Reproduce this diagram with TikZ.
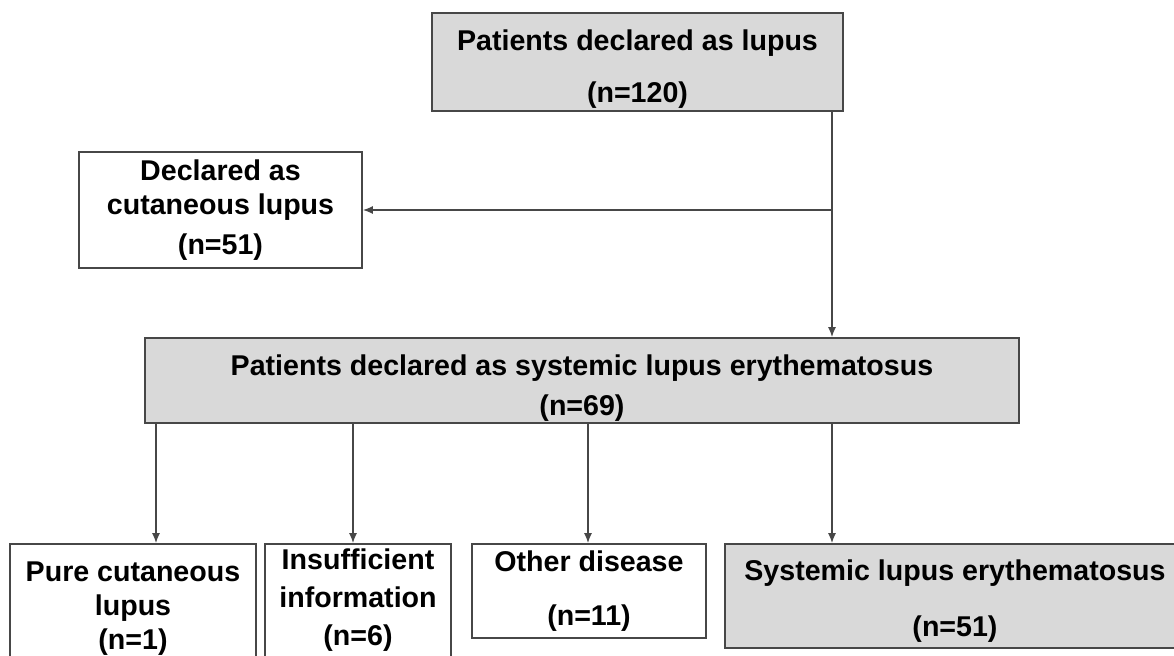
\documentclass[tikz,border=0pt]{standalone}
\usepackage{fontspec}
\setmainfont{Liberation Sans}
\usepackage{xcolor}
\usepackage{tikz}
\usetikzlibrary{positioning,arrows.meta,calc}

\definecolor{boxgray}{HTML}{D9D9D9}

\begin{document}
\begin{tikzpicture}[
  x=0.5pt, y=-0.5pt,
  font=\fontsize{14.3}{17}\selectfont\bfseries,
  box/.style={draw=black!72, align=center, inner sep=2pt,
    line width=0.9pt, fill=white},
  arr/.style={-{Latex[length=5pt,width=4pt]}, line width=0.7pt, black!72}
]
\useasboundingbox (0,0) rectangle (1174,655);
% top row
\node[box, fill=boxgray, inner ysep=0pt, minimum width=205.5pt, minimum height=49pt] (lupus) at (637.5,62)
  {\rule{0pt}{17.5pt}Patients declared as lupus\\[9pt](n=120)};
\node[box, minimum width=141.5pt, minimum height=58pt] (cutan) at (220.5,210)
  {Declared as\\cutaneous lupus\\[3pt](n=51)};
\node[box, fill=boxgray, inner ysep=0pt, minimum width=437pt, minimum height=42.5pt] (sle) at (582,380.5)
  {\rule{0pt}{18pt}Patients declared as systemic lupus erythematosus\\[3pt](n=69)};
% outcome row
\node[box, minimum width=123pt, minimum height=65pt] (pure) at (133,609)
  {Pure cutaneous\\lupus\\(n=1)};
\node[box, minimum width=93pt, minimum height=65pt, text depth=12pt] (insuf) at (358,609)
  {Insufficient\\[2pt]information\\[2pt](n=6)};
\node[box, minimum width=117pt, minimum height=47pt] (other) at (589,591)
  {Other disease\\[10pt](n=11)};
\node[box, fill=boxgray, minimum width=230pt, minimum height=52pt] (slefinal) at (955,596)
  {\rule{0pt}{15.5pt}Systemic lupus erythematosus\\[11pt](n=51)};
\draw[arr] (832,0 |- lupus.south) -- (832,0 |- sle.north);
\draw[arr] (832,0 |- cutan.east) -- (cutan.east);
\foreach \x/\n in {156/pure, 353/insuf, 588/other, 832/slefinal}
  \draw[arr] (\x,0 |- sle.south) -- (\x,0 |- \n.north);
\end{tikzpicture}
\end{document}
